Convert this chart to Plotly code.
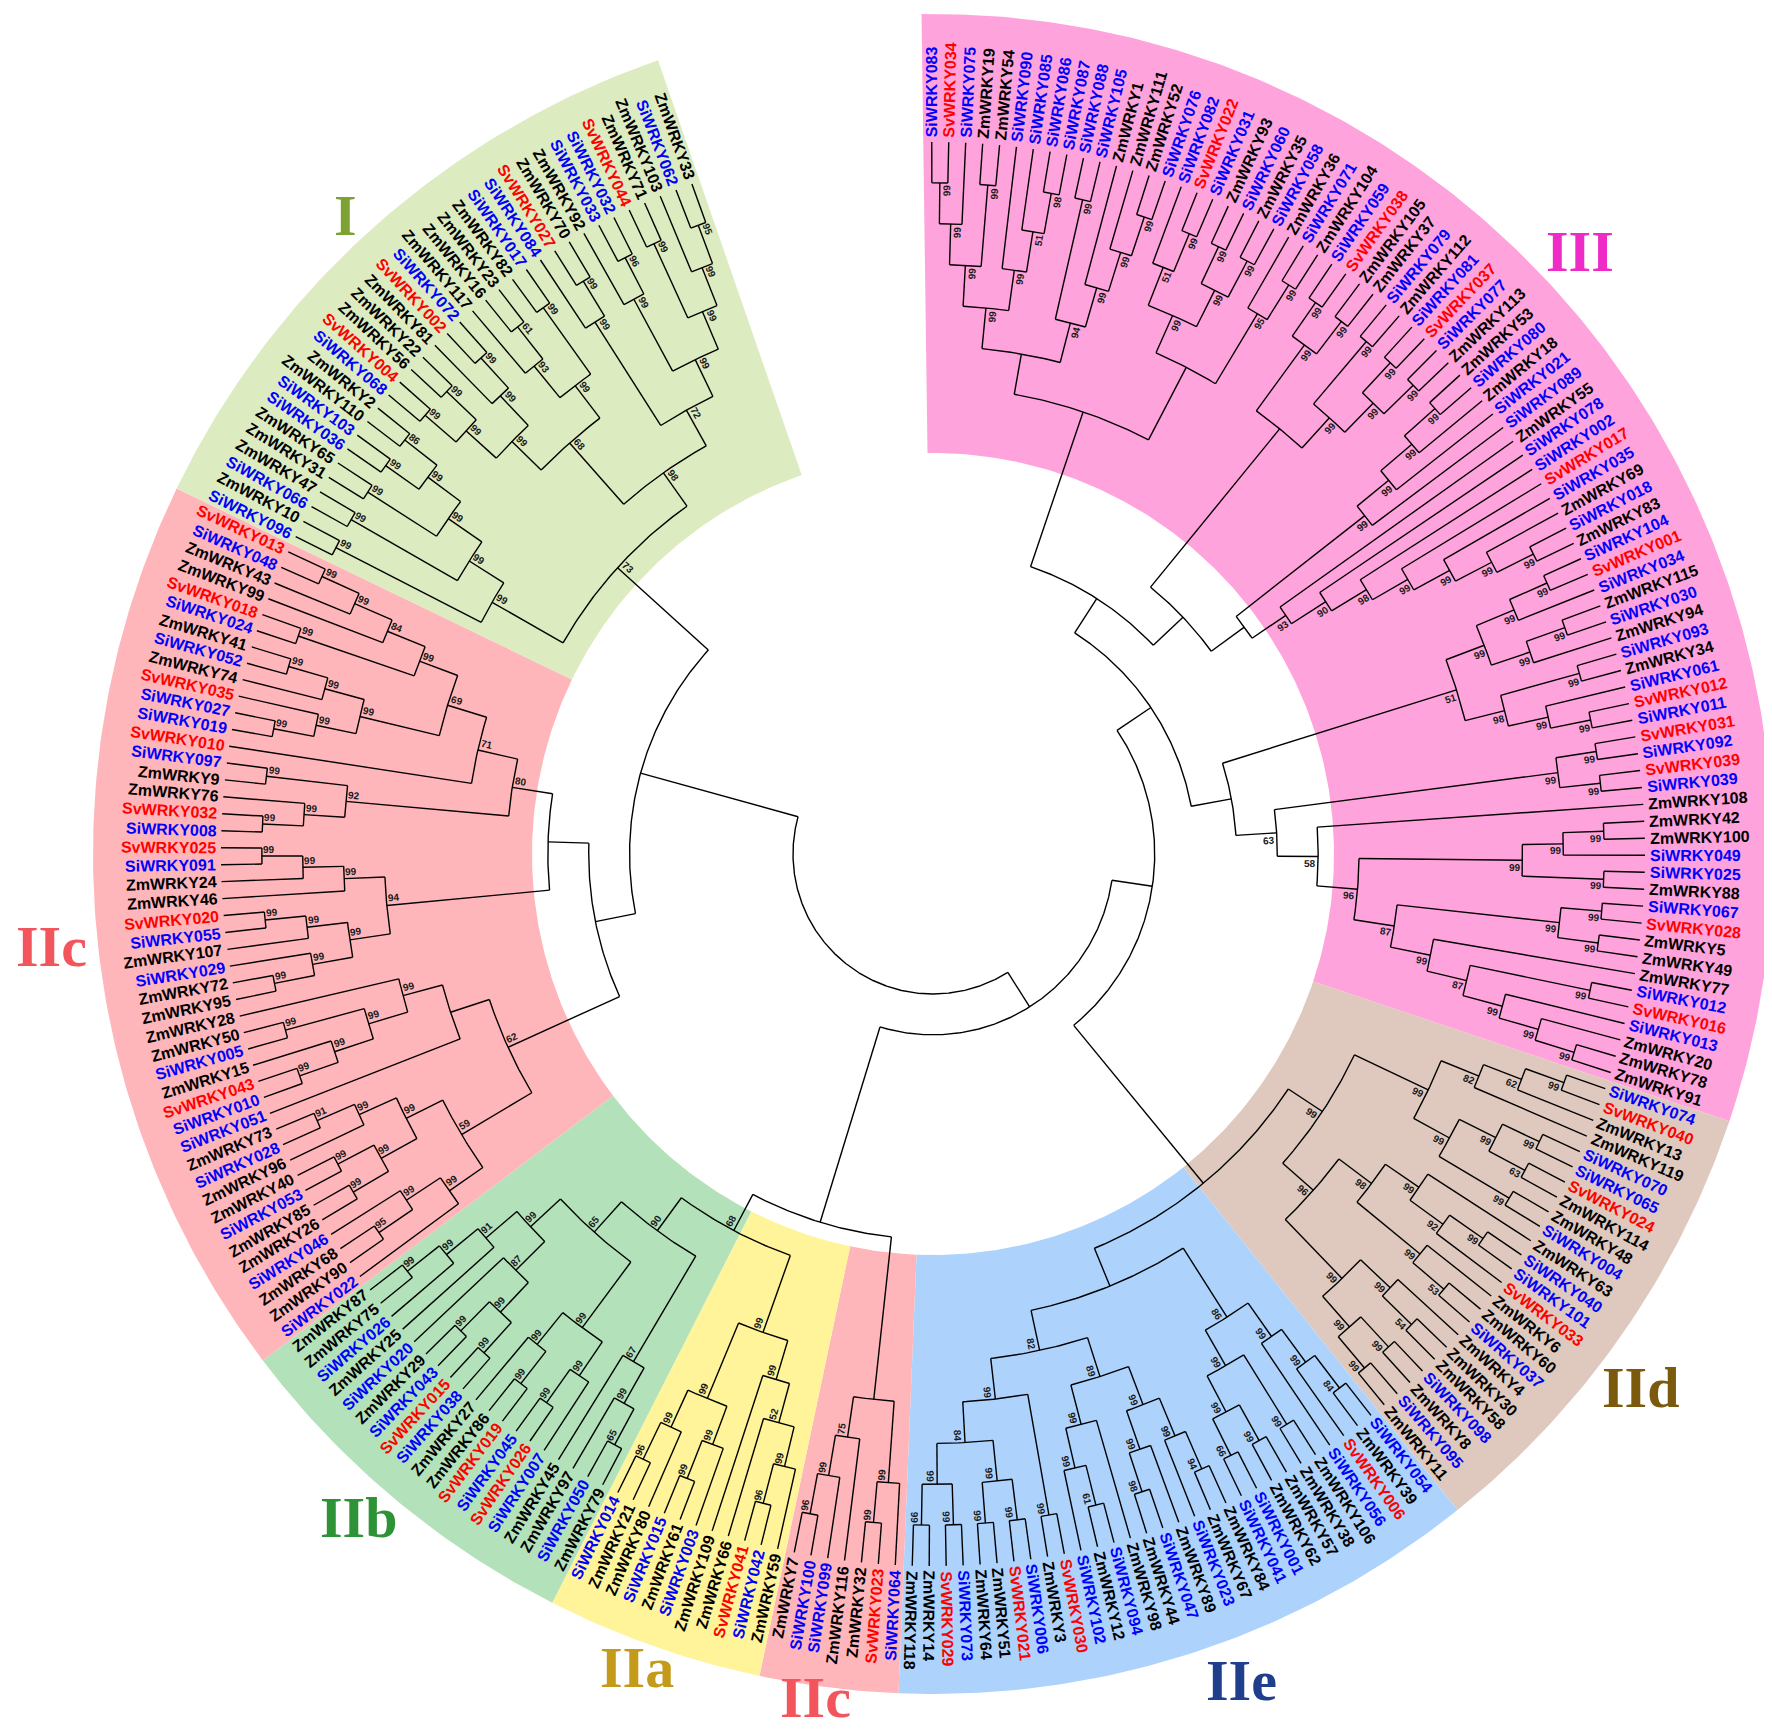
import math
import plotly.graph_objects as go

# ---------------- data ----------------
# Topology of each subfamily (Newick, bootstrap support as internal labels).

# subfamily III (written clockwise from the top)
III_t1 = "(((SiWRKY083,SvWRKY034)99,SiWRKY075)99,(ZmWRKY19,ZmWRKY54)99)99"
III_t2 = "(SiWRKY090,(SiWRKY085,(SiWRKY086,SiWRKY087)98)51)99"
III_t3 = "((SiWRKY088,SiWRKY105)99,(ZmWRKY1,(ZmWRKY111,(ZmWRKY52,SiWRKY076)99)99)99)94"
III_t4 = "((SiWRKY082,(SvWRKY022,SiWRKY031)99)51,((ZmWRKY93,SiWRKY060)99,(ZmWRKY35,SiWRKY058)99)99)99"
III_t5 = "(ZmWRKY36,(SiWRKY071,ZmWRKY104)99)95"
III_t6 = "((SiWRKY059,SvWRKY038)99,(ZmWRKY105,ZmWRKY37)99)99"
III_t7 = "((SiWRKY079,ZmWRKY112)99,((SiWRKY081,SvWRKY037)99,(SiWRKY077,ZmWRKY113)99)99)99"
III_t8 = "((((ZmWRKY53,SiWRKY080)99,ZmWRKY18)99,SiWRKY021)99,SiWRKY089)99"
III_t9 = ("(ZmWRKY55,(SiWRKY078,(SiWRKY002,(SvWRKY017,(SiWRKY035,"
          "(ZmWRKY69,(SiWRKY018,ZmWRKY83)99)99)99)99)98)90)93")
III_u1 = "(((SiWRKY104,SvWRKY001)99,SiWRKY034)99,((ZmWRKY115,SiWRKY030)99,ZmWRKY94)99)99"
III_u2 = "((SiWRKY093,ZmWRKY34)99,(SiWRKY061,(SvWRKY012,SiWRKY011)99)99)98"
III_u3 = "((SvWRKY031,SiWRKY092)99,(SvWRKY039,SiWRKY039)99)99"
III_u5 = ("(((SiWRKY067,SvWRKY028)99,(ZmWRKY5,ZmWRKY49)99)99,(ZmWRKY77,((SiWRKY012,SvWRKY016)99,"
          "(SiWRKY013,(ZmWRKY20,(ZmWRKY78,ZmWRKY91)99)99)99)87)99)87")
III_u4 = ("(ZmWRKY108,((((ZmWRKY42,ZmWRKY100)99,SiWRKY049)99,(SiWRKY025,ZmWRKY88)99)99,"
          + III_u5 + ")96)58")
III_upper = ("((((" + III_t1 + "," + III_t2 + ")99," + III_t3 + "),(" + III_t4 + "," + III_t5 + ")),(("
             + III_t6 + "," + III_t7 + "),(" + III_t8 + "," + III_t9 + ")))")
III_lower = "((" + III_u1 + "," + III_u2 + ")51,(" + III_u3 + "," + III_u4 + ")63)"
tree_III = "(" + III_upper + "," + III_lower + ")"

# subfamily IId (clockwise)
IId_d1 = ("((((SiWRKY074,SvWRKY040)99,ZmWRKY13)62,ZmWRKY119)82,(((SiWRKY070,SiWRKY065)99,"
          "(SvWRKY024,ZmWRKY114)63)99,(ZmWRKY48,SiWRKY004)99)99)99")
IId_d2 = ("(((ZmWRKY63,((SiWRKY040,SiWRKY101)99,SvWRKY033)92)99,(ZmWRKY6,(ZmWRKY60,SiWRKY037)53)99)98,"
          "((ZmWRKY4,(ZmWRKY30,ZmWRKY58)54)99,((SiWRKY098,ZmWRKY8)99,(SiWRKY095,ZmWRKY11)99)99)99)96")
tree_IId = "(" + IId_d1 + "," + IId_d2 + ")99"

# subfamily IIe (written anticlockwise)
IIe_a = ("(((ZmWRKY118,ZmWRKY14)99,(SvWRKY029,SiWRKY073)99)99,"
         "((ZmWRKY64,ZmWRKY51)99,(SvWRKY021,SiWRKY006)99)99)84")
IIe_b = ("(((SiWRKY102,(ZmWRKY12,SiWRKY094)61)99,ZmWRKY98)99,(((ZmWRKY44,SiWRKY047)98,ZmWRKY89)99,"
         "(SiWRKY023,(ZmWRKY67,ZmWRKY84)94)99)99)89")
IIe_c = ("((((SiWRKY041,SiWRKY001)66,(ZmWRKY62,ZmWRKY57)99)99,(ZmWRKY38,ZmWRKY106)99)99,"
         "(SiWRKY056,(SvWRKY006,(ZmWRKY39,SiWRKY054)84)99)99)86")
tree_IIe = "(((" + IIe_a + ",(ZmWRKY3,SvWRKY030)99)99," + IIe_b + ")82," + IIe_c + ")"

# subfamily IIc, bottom part (anticlockwise)
tree_IIc_b = "((((ZmWRKY7,SiWRKY100)96,SiWRKY099)99,ZmWRKY116)75,((ZmWRKY32,SvWRKY023)99,SiWRKY064)99)"

# subfamily IIa (anticlockwise)
IIa_q1 = "(((SiWRKY014,ZmWRKY21)96,ZmWRKY80)99,((SiWRKY015,ZmWRKY61)99,SiWRKY003)99)99"
IIa_q2 = "(ZmWRKY109,(ZmWRKY66,((SvWRKY041,SiWRKY042)96,ZmWRKY59)99)52)99"
tree_IIa = "(" + IIa_q1 + "," + IIa_q2 + ")99"

# subfamily IIb (anticlockwise)
IIb_p1 = ("((((ZmWRKY87,ZmWRKY75)99,SiWRKY026)99,ZmWRKY25)91,(SiWRKY020,((ZmWRKY29,SiWRKY043)99,"
          "(SvWRKY015,SiWRKY038)99)99)87)99")
IIb_p2 = "((ZmWRKY27,(ZmWRKY86,SvWRKY019)99)99,((SiWRKY045,SvWRKY026)99,SiWRKY007)99)99"
IIb_p3 = "(ZmWRKY45,(ZmWRKY97,(SiWRKY050,ZmWRKY79)65)99)67"
tree_IIb = "((" + IIb_p1 + "," + IIb_p2 + ")65," + IIb_p3 + ")90"

# subfamily IIc, left part (anticlockwise)
IIc_a1 = "(((SvWRKY013,SiWRKY048)99,ZmWRKY43)99,ZmWRKY99)84"
IIc_a2 = "(SvWRKY018,SiWRKY024)99"
IIc_b = "(((ZmWRKY41,SiWRKY052)99,ZmWRKY74)99,(SvWRKY035,(SiWRKY027,SiWRKY019)99)99)99"
IIc_c = "(((" + IIc_a1 + "," + IIc_a2 + ")99," + IIc_b + ")69,SvWRKY010)71"
IIc_d = "((SiWRKY097,ZmWRKY9)99,(ZmWRKY76,(SvWRKY032,SiWRKY008)99)99)92"
IIc_e = "(((SvWRKY025,SiWRKY091)99,ZmWRKY24)99,ZmWRKY46)99"
IIc_f = "(((SvWRKY020,SiWRKY055)99,ZmWRKY107)99,(SiWRKY029,(ZmWRKY72,ZmWRKY95)99)99)99"
IIc_g = "((ZmWRKY28,((ZmWRKY50,SiWRKY005)99,(ZmWRKY15,(SvWRKY043,SiWRKY010)99)99)99)99,SiWRKY051)"
IIc_h1 = "(((ZmWRKY73,SiWRKY028)91,ZmWRKY96)99,((ZmWRKY40,SiWRKY053)99,(ZmWRKY85,ZmWRKY26)99)99)99"
IIc_h2 = "((SiWRKY046,(ZmWRKY68,ZmWRKY90)95)99,SiWRKY022)99"
tree_IIc_l = ("(((" + IIc_c + "," + IIc_d + ")80,(" + IIc_e + "," + IIc_f + ")94),("
              + IIc_g + ",(" + IIc_h1 + "," + IIc_h2 + ")59)62)")

# subfamily I (clockwise)
I_low = ("((SiWRKY096,ZmWRKY10)99,((SiWRKY066,ZmWRKY47)99,((ZmWRKY31,ZmWRKY65)99,"
         "((SiWRKY036,SiWRKY103)99,(ZmWRKY110,ZmWRKY2)86)99)99)99)99")
I_mid = ("((((SiWRKY068,SvWRKY004)99,(ZmWRKY56,ZmWRKY22)99)99,(ZmWRKY81,(SvWRKY002,SiWRKY072)99)99)99,"
         "((ZmWRKY117,(ZmWRKY16,ZmWRKY23)61)93,(ZmWRKY82,SiWRKY017)99)99)68")
I_up = ("((SiWRKY084,(SvWRKY027,ZmWRKY70)99)99,((ZmWRKY92,(SiWRKY033,SiWRKY032)96)99,"
        "((SvWRKY044,ZmWRKY71)99,(ZmWRKY103,(SiWRKY062,ZmWRKY33)95)99)99)99)72")
tree_I = "(" + I_low + ",(" + I_mid + "," + I_up + ")98)73"

# how the subfamilies hang together (clockwise from the top)
backbone = "(((III,(IId,IIe)),(IIc_b,(IIa,IIb)68)),(IIc_l,I))"

group_keys = ["III", "IId", "IIe", "IIc_b", "IIa", "IIb", "IIc_l", "I"]
group_names = ["III", "IId", "IIe", "IIc", "IIa", "IIb", "IIc", "I"]
group_trees = [tree_III, tree_IId, tree_IIe, tree_IIc_b, tree_IIa, tree_IIb, tree_IIc_l, tree_I]
written_ccw = ["IIe", "IIc_b", "IIa", "IIb", "IIc_l"]

# ---------------- style ----------------
sector_colors = ["#FFA3DC", "#DFC9BE", "#ADD3FD", "#FFB6BA", "#FFF49A", "#B3E2BA", "#FFB6BA", "#DDEBC1"]
group_text_colors = ["#EE2BC7", "#7B5A0E", "#1F3E8C", "#F2555C", "#C49A1A", "#2E9236", "#F2555C", "#7CA233"]
group_label_pos = {"III": (43.0, 884), "IId": (-37.0, 886), "IIe": (-69.5, 882), "IIc_b": (-97.9, 852),
                   "IIa": (-110.0, 866), "IIb": (-130.9, 878), "IIc_l": (186.0, 886), "I": (132.6, 868)}
species_colors = {"Si": "#0000FF", "Sv": "#FF0000", "Zm": "#000000"}

W, H = 1772, 1733
CX, CY = 925, 846
R_LEAF = 712
R_ROOT = 140
SECT_IN, SECT_OUT = 401, 840
A0, DA = 90.1, 1.3667
LABEL_GAP = 5
LEAF_FS = 16
BOOT_FS = 10
GROUP_FS = 58
CHAR_W = {"S": .667, "i": .278, "v": .556, "W": .944, "R": .722, "K": .722, "Y": .667,
          "Z": .611, "m": .889}


def parse(s):
    pos = 0

    def label():
        nonlocal pos
        st = pos
        while pos < len(s) and s[pos] not in ",()":
            pos += 1
        return s[st:pos]

    def node():
        nonlocal pos
        if s[pos] == "(":
            pos += 1
            kids = [node()]
            while s[pos] == ",":
                pos += 1
                kids.append(node())
            pos += 1
            return {"kids": kids, "label": label()}
        return {"kids": [], "label": label()}

    return node()


def flip(n):
    n["kids"] = [flip(k) for k in n["kids"][::-1]]
    return n


def tag(n, g):
    n["group"] = g
    for k in n["kids"]:
        tag(k, g)


def graft(n):
    if not n["kids"] and n["label"] in group_keys:
        key = n["label"]
        sub = parse(group_trees[group_keys.index(key)])
        if key in written_ccw:
            flip(sub)
        tag(sub, key)
        return sub
    n["kids"] = [graft(k) for k in n["kids"]]
    n["group"] = None
    return n


root = graft(parse(backbone))
leaves = []


def walk(n):
    if not n["kids"]:
        n["ang"] = A0 - len(leaves) * DA
        n["h"] = 0
        leaves.append(n)
        return
    for k in n["kids"]:
        walk(k)
    n["h"] = 1 + max(k["h"] for k in n["kids"])
    n["ang"] = (n["kids"][0]["ang"] + n["kids"][-1]["ang"]) / 2


walk(root)
print("leaves:", len(leaves), "height:", root["h"])
step = (R_LEAF - R_ROOT) / root["h"]


def set_r(n):
    n["r"] = R_LEAF - n["h"] * step
    for k in n["kids"]:
        set_r(k)


set_r(root)


def pt(r, a):
    t = math.radians(a)
    return CX + r * math.cos(t), CY - r * math.sin(t)


def text_angle(a):
    if -92.4 <= a <= 90.5:
        t = -a
    else:
        t = 180 - a
    return (t + 180) % 360 - 180


def text_w(s, fs):
    return fs * sum(CHAR_W.get(ch, 0.556) for ch in s)


fig = go.Figure()

# coloured sectors behind the tree
for key, col in zip(group_keys, sector_colors):
    angs = [lf["ang"] for lf in leaves if lf["group"] == key]
    a_hi, a_lo = max(angs) + DA / 2, min(angs) - DA / 2
    n = max(2, int((a_hi - a_lo) / 0.5))
    arc = [a_hi - (a_hi - a_lo) * i / n for i in range(n + 1)]
    xs, ys = [], []
    for a in arc:
        x, y = pt(SECT_OUT, a)
        xs.append(x)
        ys.append(y)
    for a in arc[::-1]:
        x, y = pt(SECT_IN, a)
        xs.append(x)
        ys.append(y)
    fig.add_trace(go.Scatter(x=xs, y=ys, fill="toself", fillcolor=col, mode="lines",
                             line=dict(width=0, color=col), hoverinfo="skip"))

# branches
lx, ly = [], []
annotations = []


def draw(n):
    if not n["kids"]:
        return
    rn = n["r"]
    a1, a2 = n["kids"][0]["ang"], n["kids"][-1]["ang"]
    m = max(2, int(abs(a1 - a2) / 0.4))
    for i in range(m + 1):
        x, y = pt(rn, a1 + (a2 - a1) * i / m)
        lx.append(x)
        ly.append(y)
    lx.append(None)
    ly.append(None)
    for k in n["kids"]:
        for r in (rn, k["r"]):
            x, y = pt(r, k["ang"])
            lx.append(x)
            ly.append(y)
        lx.append(None)
        ly.append(None)
        draw(k)
    if n["label"].isdigit():
        w = text_w(n["label"], BOOT_FS)
        rc = rn - 2 - w / 2
        ac = n["ang"] - math.degrees(7.0 / rc)
        x, y = pt(rc, ac)
        annotations.append(dict(x=x, y=y, text=n["label"], showarrow=False,
                                textangle=text_angle(n["ang"]), xanchor="center", yanchor="middle",
                                font=dict(family="Liberation Sans, Arial, sans-serif", size=BOOT_FS,
                                          color="#1A1A1A", weight="bold")))


draw(root)
fig.add_trace(go.Scatter(x=lx, y=ly, mode="lines", line=dict(color="black", width=1.4),
                         hoverinfo="skip"))

# leaf names
for lf in leaves:
    name = lf["label"]
    w = text_w(name, LEAF_FS)
    x, y = pt(R_LEAF + LABEL_GAP + w / 2, lf["ang"])
    annotations.append(dict(x=x, y=y, text=name, showarrow=False, textangle=text_angle(lf["ang"]),
                            xanchor="center", yanchor="middle",
                            font=dict(family="Liberation Sans, Arial, sans-serif", size=LEAF_FS,
                                      color=species_colors[name[:2]], weight="bold")))

# subfamily names
for key, name, col in zip(group_keys, group_names, group_text_colors):
    a, r = group_label_pos[key]
    x, y = pt(r, a)
    annotations.append(dict(x=x, y=y, text=name, showarrow=False, xanchor="center", yanchor="middle",
                            font=dict(family="Liberation Serif, Times New Roman, serif", size=GROUP_FS,
                                      color=col, weight="bold")))

fig.update_layout(
    width=W, height=H, margin=dict(l=0, r=0, t=0, b=0),
    plot_bgcolor="white", paper_bgcolor="white", showlegend=False,
    xaxis=dict(range=[0, W], visible=False, fixedrange=True),
    yaxis=dict(range=[H, 0], visible=False, fixedrange=True),
    annotations=annotations,
)
fig.write_html("out.html")
